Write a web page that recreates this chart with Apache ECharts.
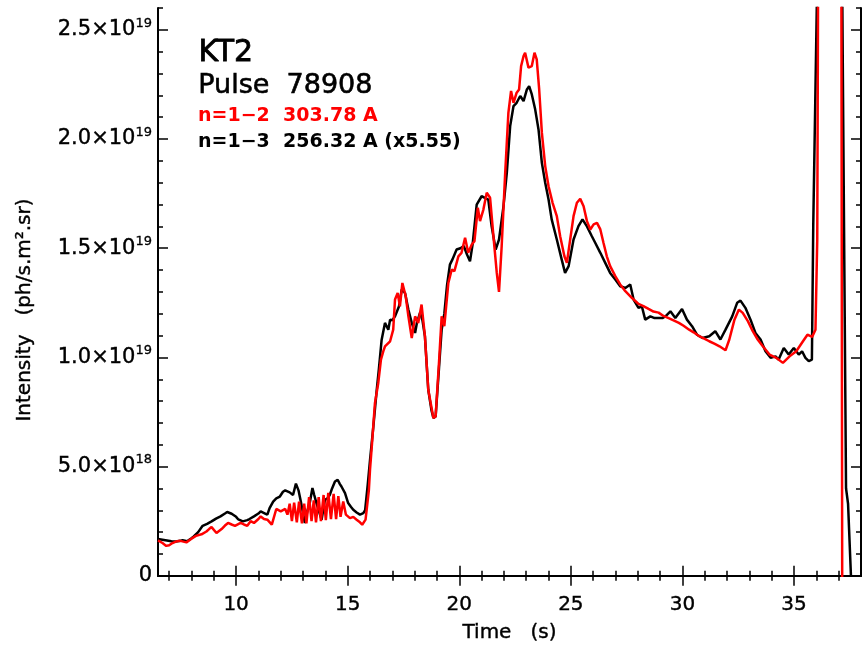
<!DOCTYPE html>
<html>
<head>
<meta charset="utf-8">
<script src="https://cdn.jsdelivr.net/npm/echarts@6/dist/echarts.min.js"></script>
<style>html,body{margin:0;padding:0;background:#fff;}#chart{width:865px;height:648px;}</style>
</head>
<body>
<div id="chart"></div>
<script>
// ---- Data (intensity in units of 1e19 ph/s.m^2.sr) ----
const E19 = 1e19;
const blackT = [6.5,6.7,6.9,7.1,7.3,7.5,7.6,7.8,8.0,8.1,8.3,8.5,8.7,8.9,9.1,9.3,9.5,9.6,9.8,10.0,10.1,10.3,10.5,10.6,10.8,11.0,11.1,11.3,11.4,11.5,11.66,11.8,11.96,12.1,12.2,12.4,12.55,12.68,12.8,12.9,13.08,13.2,13.3,13.42,13.5,13.6,13.7,13.83,13.98,14.1,14.2,14.3,14.43,14.55,14.65,14.72,14.88,15.02,15.15,15.25,15.4,15.55,15.7,15.78,15.9,16.0,16.15,16.3,16.4,16.52,16.67,16.82,16.9,17.0,17.12,17.3,17.42,17.5,17.57,17.72,17.87,18.02,18.1,18.24,18.35,18.46,18.61,18.75,18.84,18.94,19.09,19.21,19.33,19.45,19.58,19.7,19.88,20.05,20.2,20.35,20.48,20.6,20.78,20.86,21.0,21.08,21.15,21.3,21.45,21.63,21.78,21.98,22.13,22.28,22.43,22.57,22.73,22.88,23.03,23.13,23.25,23.4,23.55,23.7,23.85,24.0,24.14,24.37,24.59,24.74,24.9,25.12,25.34,25.52,25.72,25.94,26.09,26.32,26.54,26.76,26.99,27.21,27.44,27.66,27.81,28.03,28.18,28.33,28.56,28.75,28.93,29.1,29.26,29.46,29.68,29.98,30.2,30.43,30.65,30.9,31.2,31.47,31.7,31.93,32.23,32.45,32.6,32.82,33.05,33.27,33.5,33.72,33.95,34.17,34.31,34.54,34.76,34.99,35.21,35.36,35.51,35.66,35.8,35.86,36.05,37.15,37.33,37.42,37.55];
const blackV = [0.168,0.165,0.162,0.158,0.157,0.16,0.163,0.158,0.172,0.18,0.2,0.229,0.238,0.249,0.262,0.272,0.285,0.292,0.284,0.27,0.258,0.249,0.255,0.26,0.272,0.285,0.295,0.285,0.28,0.31,0.34,0.355,0.363,0.385,0.391,0.382,0.37,0.422,0.39,0.34,0.242,0.3,0.333,0.402,0.37,0.333,0.3,0.257,0.348,0.355,0.371,0.4,0.432,0.44,0.42,0.409,0.379,0.333,0.315,0.302,0.29,0.28,0.287,0.30,0.42,0.53,0.684,0.85,0.95,1.08,1.158,1.127,1.173,1.17,1.188,1.234,1.311,1.32,1.295,1.218,1.158,1.112,1.158,1.204,1.17,1.097,0.852,0.76,0.723,0.73,0.95,1.127,1.2,1.33,1.425,1.45,1.494,1.5,1.51,1.47,1.44,1.52,1.70,1.708,1.738,1.738,1.731,1.723,1.6,1.494,1.54,1.692,1.845,2.059,2.151,2.166,2.197,2.174,2.227,2.242,2.204,2.136,2.044,1.891,1.8,1.723,1.632,1.54,1.448,1.387,1.418,1.54,1.601,1.632,1.6,1.555,1.525,1.479,1.433,1.387,1.357,1.326,1.318,1.334,1.265,1.227,1.234,1.173,1.188,1.18,1.18,1.18,1.19,1.211,1.181,1.222,1.173,1.143,1.104,1.089,1.097,1.12,1.082,1.127,1.188,1.25,1.26,1.227,1.173,1.112,1.082,1.028,0.998,1.005,0.99,1.043,1.013,1.043,1.013,1.028,0.998,0.983,0.99,1.6,2.8,2.8,0.4,0.33,0];

const redT = [6.5,6.7,6.87,7.0,7.15,7.3,7.5,7.77,8.0,8.2,8.45,8.67,8.8,8.9,9.12,9.35,9.5,9.64,9.8,9.95,10.2,10.35,10.5,10.65,10.8,11.0,11.1,11.25,11.4,11.6,11.8,12.0,12.2,12.3,12.4,12.5,12.6,12.72,12.82,12.95,13.05,13.15,13.27,13.38,13.48,13.58,13.7,13.8,13.92,14.02,14.13,14.25,14.37,14.48,14.58,14.68,14.8,14.92,15.1,15.25,15.4,15.55,15.65,15.8,15.85,15.95,16.0,16.1,16.22,16.37,16.49,16.6,16.67,16.9,17.04,17.12,17.24,17.34,17.45,17.6,17.72,17.87,18.02,18.16,18.31,18.46,18.61,18.84,18.94,19.09,19.21,19.33,19.51,19.66,19.78,19.96,20.1,20.26,20.4,20.56,20.68,20.83,20.93,21.08,21.23,21.38,21.53,21.68,21.78,21.9,22.05,22.2,22.32,22.43,22.57,22.68,22.77,22.88,22.95,23.1,23.25,23.37,23.47,23.58,23.7,23.85,24.0,24.18,24.37,24.52,24.71,24.82,24.97,25.12,25.27,25.42,25.57,25.72,25.87,26.02,26.17,26.32,26.46,26.61,26.76,26.99,27.21,27.44,27.73,28.03,28.25,28.48,28.7,28.93,29.15,29.38,29.6,29.84,30.05,30.3,30.5,30.75,31.0,31.2,31.45,31.66,31.93,32.1,32.33,32.53,32.7,32.93,33.15,33.37,33.6,33.9,34.2,34.5,34.8,35.1,35.4,35.6,35.81,35.96,36.04,36.08,37.12,37.16];
const redV = [0.162,0.15,0.137,0.14,0.15,0.157,0.16,0.153,0.17,0.183,0.19,0.203,0.215,0.223,0.196,0.214,0.23,0.242,0.235,0.229,0.242,0.235,0.229,0.25,0.242,0.26,0.272,0.26,0.257,0.234,0.306,0.295,0.306,0.28,0.33,0.25,0.335,0.245,0.34,0.24,0.33,0.24,0.36,0.25,0.345,0.245,0.36,0.25,0.37,0.255,0.38,0.26,0.375,0.26,0.365,0.27,0.34,0.28,0.264,0.27,0.257,0.245,0.234,0.257,0.302,0.394,0.486,0.62,0.79,0.883,0.99,1.03,1.05,1.074,1.127,1.265,1.295,1.234,1.341,1.28,1.188,1.089,1.188,1.158,1.242,1.097,0.852,0.723,0.73,0.975,1.188,1.143,1.341,1.402,1.395,1.463,1.479,1.548,1.479,1.517,1.532,1.685,1.624,1.677,1.754,1.731,1.555,1.387,1.3,1.51,1.83,2.12,2.22,2.166,2.212,2.227,2.334,2.38,2.395,2.327,2.334,2.395,2.365,2.227,2.029,1.876,1.784,1.708,1.647,1.555,1.463,1.433,1.54,1.647,1.708,1.726,1.692,1.624,1.586,1.609,1.616,1.586,1.525,1.463,1.418,1.372,1.334,1.303,1.273,1.245,1.235,1.222,1.21,1.205,1.19,1.18,1.17,1.158,1.145,1.127,1.115,1.097,1.085,1.074,1.062,1.051,1.033,1.082,1.173,1.219,1.204,1.166,1.12,1.082,1.051,1.013,0.998,0.975,1.005,1.028,1.074,1.104,1.094,1.127,1.54,2.8,2.8,-0.2];

// ---- Axes / ticks ----
const xMin = 6.5, xMax = 38;
const yMin = 0, yMax = 2.6e19;
const xMajorTicks = [10, 15, 20, 25, 30, 35];
const xMinorTicks = [7,8,9,11,12,13,14,16,17,18,19,21,22,23,24,26,27,28,29,31,32,33,34,36,37];
const yMajorTicks = [0, 5e18, 1e19, 1.5e19, 2e19, 2.5e19];
const yMinorTicks = [1e18,2e18,3e18,4e18,6e18,7e18,8e18,9e18,1.1e19,1.2e19,1.3e19,1.4e19,1.6e19,1.7e19,1.8e19,1.9e19,2.1e19,2.2e19,2.3e19,2.4e19,2.6e19];

const titleText = 'KT2';
const pulseText = 'Pulse  78908';
const redLabel = 'n=1\u22122  303.78 A';
const blackLabel = 'n=1\u22123  256.32 A (x5.55)';
const xName = 'Time   (s)';
const yName = 'Intensity   (ph/s.m\u00b2.sr)';

const FONT = 'DejaVu Sans';
const blackData = blackT.map((t, i) => [t, blackV[i] * E19]);
const redData = redT.map((t, i) => [t, redV[i] * E19]);

function yFmt(v) {
  if (v === 0) return '{m|0}';
  const e = Math.floor(Math.log10(v) + 1e-9);
  const m = v / Math.pow(10, e);
  return '{m|' + m.toFixed(1) + '\u00d710}{e|' + e + '}';
}

const lineAx = { show: true, lineStyle: { color: '#000', width: 2 } };
function xAx(pos, major, showLabel) {
  return {
    type: 'value', position: pos, min: xMin, max: xMax,
    axisLine: major ? lineAx : { show: false },
    splitLine: { show: false },
    axisTick: { show: true, inside: true, length: major ? 10 : 5, customValues: major ? xMajorTicks : xMinorTicks,
                lineStyle: { color: '#000', width: 1.5 } },
    axisLabel: showLabel ? { show: true, customValues: xMajorTicks, margin: 19, color: '#000',
                fontFamily: FONT, fontSize: 20, textBorderColor: '#000', textBorderWidth: 0.4 } : { show: false },
    name: showLabel ? xName : '', nameLocation: 'middle', nameGap: 47,
    nameTextStyle: { fontFamily: FONT, fontSize: 20, color: '#000', textBorderColor: '#000', textBorderWidth: 0.4 }
  };
}
function yAx(pos, major, showLabel) {
  return {
    type: 'value', position: pos, min: yMin, max: yMax,
    axisLine: major ? lineAx : { show: false },
    splitLine: { show: false },
    axisTick: { show: true, inside: true, length: major ? 10 : 5, customValues: major ? yMajorTicks : yMinorTicks,
                lineStyle: { color: '#000', width: 1.5 } },
    axisLabel: showLabel ? { show: true, customValues: yMajorTicks, margin: 6, color: '#000',
                formatter: yFmt,
                rich: { m: { fontFamily: FONT, fontSize: 21, color: '#000', textBorderColor: '#000', textBorderWidth: 0.4 },
                        e: { fontFamily: FONT, fontSize: 13, color: '#000', textBorderColor: '#000', textBorderWidth: 0.3,
                             padding: [0, 0, 13, 0] } } } : { show: false },
    name: '', nameLocation: 'middle'
  };
}

const chart = echarts.init(document.getElementById('chart'), null, { renderer: 'canvas' });
chart.setOption({
  backgroundColor: '#fff',
  animation: false,
  grid: { left: 158, right: 4, top: 8, bottom: 72, containLabel: false },
  xAxis: [xAx('bottom', true, true), xAx('bottom', false, false), xAx('top', true, false), xAx('top', false, false)],
  yAxis: [yAx('left', true, true), yAx('left', false, false), yAx('right', true, false), yAx('right', false, false)],
  series: [
    { name: 'n=1-3', type: 'line', data: blackData, showSymbol: false, symbol: 'none',
      lineStyle: { color: '#000', width: 2.5 }, itemStyle: { color: '#000' }, clip: true, z: 2 },
    { name: 'n=1-2', type: 'line', data: redData, showSymbol: false, symbol: 'none',
      lineStyle: { color: '#ff0000', width: 2.5 }, itemStyle: { color: '#ff0000' }, clip: true, z: 3 }
  ],
  graphic: [
    { type: 'text', x: 25, y: 310, rotation: Math.PI / 2,
      style: { text: yName, font: '20px "DejaVu Sans"', fill: '#000', stroke: '#000', lineWidth: 0.4,
               textAlign: 'center', textVerticalAlign: 'middle' } },
    { type: 'text', left: 198, top: 38, style: { text: titleText, font: '30px "DejaVu Sans"', fill: '#000', stroke: '#000', lineWidth: 0.8 } },
    { type: 'text', left: 198, top: 72, style: { text: pulseText, font: '27px "DejaVu Sans"', fill: '#000', stroke: '#000', lineWidth: 0.6 } },
    { type: 'text', left: 198, top: 107, style: { text: redLabel, font: 'bold 19px "DejaVu Sans"', fill: '#ff0000' } },
    { type: 'text', left: 198, top: 133, style: { text: blackLabel, font: 'bold 19px "DejaVu Sans"', fill: '#000' } }
  ]
});
</script>
</body>
</html>
